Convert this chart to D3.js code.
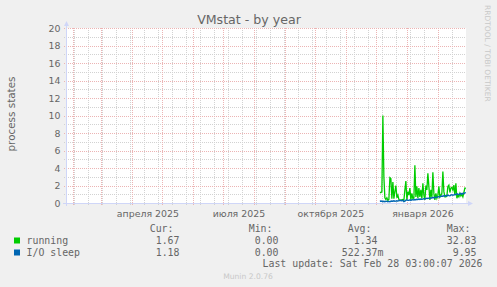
<!DOCTYPE html>
<html>
<head>
<meta charset="utf-8">
<script src="https://cdn.jsdelivr.net/npm/d3@7"></script>
<style>
  html, body { margin: 0; padding: 0; background: #f0f0f0; }
  svg { display: block; }
</style>
</head>
<body>
<div id="chart"></div>
<script>
// daily averages, one value per day starting at firstDay
const firstDay = "2025-12-04";
const runningValues = [
  1.2, 1.2, 1.3, 10.0, 3.0, 0.6, 0.4, 0.6, 0.3, 0.4,
  2.9, 2.8, 0.5, 2.4, 0.5, 1.3, 2.0, 0.6, 0.9, 0.4,
  0.3, 0.35, 0.35, 0.4, 0.3, 1.5, 2.5, 0.35, 1.3, 0.9,
  1.7, 0.35, 1.1, 0.5, 0.55, 4.3, 0.7, 1.9, 0.55, 1.7,
  0.7, 1.5, 0.5, 2.25, 0.9, 0.35, 2.0, 1.5, 3.4, 1.9,
  0.35, 1.5, 0.7, 3.5, 1.1, 0.35, 1.1, 0.55, 0.9, 1.9,
  0.7, 0.9, 1.1, 3.6, 1.3, 0.7, 0.7, 0.8, 1.9, 2.05,
  1.2, 1.7, 1.8, 1.5, 2.05, 0.9, 2.25, 0.55, 0.9, 0.7,
  1.1, 0.8, 1.0, 0.7, 1.2, 1.7, 1.67
];
const ioSleepValues = [
  0.2, 0.22, 0.2, 0.18, 0.2, 0.15, 0.18, 0.2, 0.15, 0.18,
  0.15, 0.2, 0.22, 0.2, 0.25, 0.2, 0.22, 0.25, 0.22, 0.28,
  0.3, 0.28, 0.25, 0.3, 0.15, 0.2, 0.32, 0.35, 0.3, 0.32,
  0.35, 0.3, 0.35, 0.38, 0.35, 0.4, 0.38, 0.42, 0.4, 0.45,
  0.4, 0.45, 0.42, 0.45, 0.5, 0.48, 0.5, 0.55, 0.52, 0.55,
  0.58, 0.55, 0.6, 0.62, 0.6, 0.65, 0.62, 0.68, 0.7, 0.72,
  0.7, 0.75, 0.8, 0.78, 0.82, 0.8, 0.85, 0.8, 0.9, 0.85,
  0.82, 0.9, 0.95, 0.88, 0.92, 1.0, 0.95, 1.05, 1.0, 0.98,
  1.05, 1.1, 1.0, 1.12, 1.08, 1.15, 1.18
];

const seriesNames = ["running", "I/O sleep"];
const seriesColors = ["#00cc00", "#0066b3"];
const curValues = ["1.67", "1.18"];
const minValues = ["0.00", "0.00"];
const avgValues = ["1.34", "522.37m"];
const maxValues = ["32.83", "9.95"];

const yTicks = [0, 2, 4, 6, 8, 10, 12, 14, 16, 18, 20];
const yMinorTicks = [1, 3, 5, 7, 9, 11, 13, 15, 17, 19];
const monthLabelDates = ["2025-04-01", "2025-07-01", "2025-10-01", "2026-01-01"];
const monthLabels = ["апреля 2025", "июля 2025", "октября 2025", "января 2026"];

const rangeStart = new Date(Date.UTC(2025, 0, 24, 3, 0, 7));
const rangeEnd = new Date(Date.UTC(2026, 1, 28, 3, 0, 7));
const minorGridStart = new Date(Date.UTC(2025, 1, 2));

const W = 497, H = 287;
const plotL = 66, plotR = 466, plotT = 28, plotB = 203;

const parseDay = d3.utcParse("%Y-%m-%d");
const day0 = parseDay(firstDay);
const rows = runningValues.map((v, i) => ({
  date: d3.utcHour.offset(d3.utcDay.offset(day0, i), 12),
  running: v,
  sleep: ioSleepValues[i]
}));

const x = d3.scaleUtc().domain([rangeStart, rangeEnd]).range([plotL - 0.5, plotR - 0.5]);
const y = d3.scaleLinear().domain([0, 20]).range([plotB, plotT]);

const svg = d3.select("#chart").append("svg")
  .attr("width", W)
  .attr("height", H)
  .attr("viewBox", `0 0 ${W} ${H}`);

svg.append("rect").attr("width", W).attr("height", H).attr("fill", "#f0f0f0");
svg.append("rect")
  .attr("x", plotL).attr("y", plotT)
  .attr("width", plotR - plotL).attr("height", plotB - plotT)
  .attr("fill", "#ffffff");

const fontSans = "'DejaVu Sans', sans-serif";
const fontMono = "'DejaVu Sans Mono', monospace";
const textColor = "#666666";
const minorColor = "#d2d2d2";
const majorColor = "#ecb4b4";

// grid
const grid = svg.append("g").attr("class", "grid").attr("shape-rendering", "crispEdges");

const minorDays = d3.utcDay.range(minorGridStart, rangeEnd, 14);
grid.selectAll(".vminor").data(minorDays).join("line")
  .attr("x1", d => Math.round(x(d)) + 0.5).attr("x2", d => Math.round(x(d)) + 0.5)
  .attr("y1", plotT).attr("y2", plotB + 2)
  .attr("stroke", minorColor).attr("stroke-dasharray", "1,1");

grid.selectAll(".hminor").data(yMinorTicks).join("line")
  .attr("x1", plotL - 2).attr("x2", plotR)
  .attr("y1", d => Math.round(y(d)) + 0.5).attr("y2", d => Math.round(y(d)) + 0.5)
  .attr("stroke", minorColor).attr("stroke-dasharray", "1,1");

const months = d3.utcMonth.range(rangeStart, rangeEnd);
grid.selectAll(".vmajor").data(months).join("line")
  .attr("x1", d => Math.round(x(d)) + 0.5).attr("x2", d => Math.round(x(d)) + 0.5)
  .attr("y1", plotT).attr("y2", plotB + 2)
  .attr("stroke", majorColor).attr("stroke-dasharray", "1,1");

grid.selectAll(".hmajor").data(yTicks).join("line")
  .attr("x1", plotL - 2).attr("x2", plotR)
  .attr("y1", d => Math.round(y(d)) + 0.5).attr("y2", d => Math.round(y(d)) + 0.5)
  .attr("stroke", majorColor).attr("stroke-dasharray", "1,1");

// series
const lineRunning = d3.line().x(d => x(d.date)).y(d => y(d.running));
const lineSleep = d3.line().x(d => x(d.date)).y(d => y(d.sleep));

svg.append("path").datum(rows)
  .attr("d", lineRunning)
  .attr("fill", "none").attr("stroke", seriesColors[0])
  .attr("stroke-width", 1.3).attr("stroke-linejoin", "miter");

svg.append("path").datum(rows)
  .attr("d", lineSleep)
  .attr("fill", "none").attr("stroke", seriesColors[1])
  .attr("stroke-width", 1.4).attr("stroke-linejoin", "miter");

// axes lines and arrows
const axisColor = "#cfd6f8";
svg.append("line")
  .attr("x1", plotL - 3).attr("x2", plotR + 3)
  .attr("y1", plotB + 0.5).attr("y2", plotB + 0.5)
  .attr("stroke", axisColor).attr("shape-rendering", "crispEdges");
svg.append("line")
  .attr("x1", plotL + 0.5).attr("x2", plotL + 0.5)
  .attr("y1", plotB + 3).attr("y2", plotT - 4)
  .attr("stroke", axisColor).attr("shape-rendering", "crispEdges");
svg.append("path")
  .attr("d", `M${plotR + 2},${plotB - 2} L${plotR + 7},${plotB + 0.5} L${plotR + 2},${plotB + 3} Z`)
  .attr("fill", axisColor);
svg.append("path")
  .attr("d", `M${plotL - 2},${plotT - 2} L${plotL + 0.5},${plotT - 7} L${plotL + 3},${plotT - 2} Z`)
  .attr("fill", axisColor);

// tick labels via d3 axes
const yAxis = svg.append("g")
  .attr("transform", `translate(${plotL},0)`)
  .call(d3.axisLeft(y).tickValues(yTicks).tickSize(0).tickPadding(5.5).tickFormat(d3.format("d")));
yAxis.select(".domain").remove();
yAxis.selectAll("text")
  .attr("fill", textColor).style("font-family", fontSans).style("font-size", "9.4px");

const labelPositions = monthLabelDates.map(d => d3.utcDay.offset(parseDay(d), 15));
const xAxis = svg.append("g")
  .attr("transform", `translate(0,${plotB})`)
  .call(d3.axisBottom(x).tickValues(labelPositions).tickSize(0).tickPadding(7.3)
    .tickFormat((d, i) => monthLabels[i]));
xAxis.select(".domain").remove();
xAxis.selectAll("text")
  .attr("fill", textColor).style("font-family", fontSans).style("font-size", "9.4px");

// title and axis label
svg.append("text")
  .attr("x", 249).attr("y", 24)
  .attr("text-anchor", "middle")
  .attr("fill", textColor)
  .style("font-family", fontSans).style("font-size", "12.6px")
  .text("VMstat - by year");

svg.append("text")
  .attr("transform", "translate(15,114) rotate(-90)")
  .attr("text-anchor", "middle")
  .attr("fill", textColor)
  .style("font-family", fontSans).style("font-size", "10.4px")
  .text("process states");

svg.append("text")
  .attr("transform", "translate(485,5) rotate(90)")
  .attr("fill", "#c8c8c8")
  .style("font-family", fontSans).style("font-size", "7.5px")
  .text("RRDTOOL / TOBI OETIKER");

// legend
const legend = svg.append("g")
  .attr("fill", textColor)
  .style("font-family", fontMono).style("font-size", "9.9px");

const colRight = [179.5, 278.5, 377.5, 476.5];
const headers = ["Cur:", "Min:", "Avg:", "Max:"];
legend.selectAll(".hdr").data(headers).join("text")
  .attr("x", (d, i) => colRight[i] - 6).attr("y", 231.5)
  .attr("text-anchor", "end").text(d => d);

const columns = [curValues, minValues, avgValues, maxValues];
seriesNames.forEach((name, r) => {
  const yy = 243.5 + r * 12;
  svg.append("rect")
    .attr("x", 14).attr("y", yy - 6).attr("width", 6).attr("height", 6)
    .attr("fill", seriesColors[r]);
  legend.append("text").attr("x", 26.5).attr("y", yy).text(name);
  columns.forEach((col, c) => {
    const raw = col[r];
    const m = raw.match(/^([\d.]+)(\D*)$/);
    legend.append("text")
      .attr("x", colRight[c]).attr("y", yy)
      .attr("text-anchor", "end").text(m[1]);
    if (m[2]) legend.append("text").attr("x", colRight[c]).attr("y", yy).text(m[2]);
  });
});

legend.append("text")
  .attr("x", 482.5).attr("y", 267)
  .attr("text-anchor", "end")
  .text("Last update: Sat Feb 28 03:00:07 2026");

svg.append("text")
  .attr("x", 248).attr("y", 279)
  .attr("text-anchor", "middle")
  .attr("fill", "#c8c8c8")
  .style("font-family", fontSans).style("font-size", "7.6px")
  .text("Munin 2.0.76");
</script>
</body>
</html>
